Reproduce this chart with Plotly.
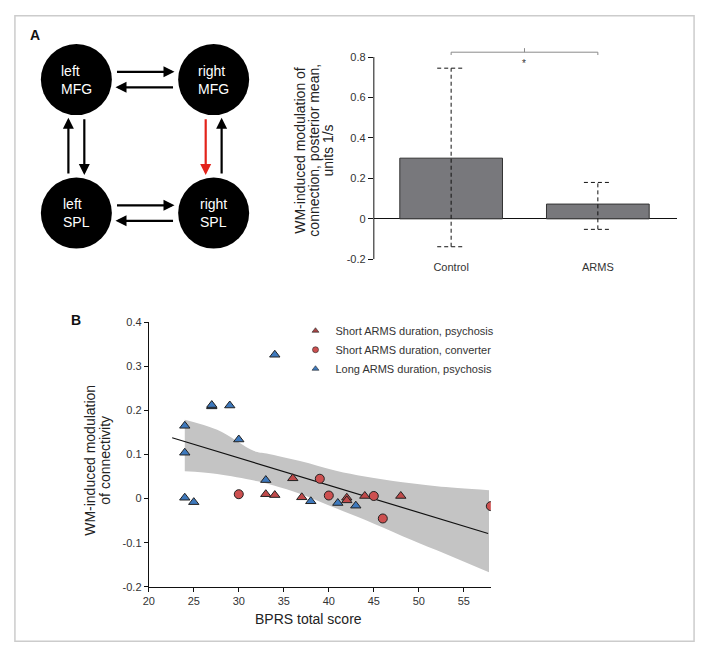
import plotly.graph_objects as go

W, H = 702, 656
FONT = "Liberation Sans, Arial, Helvetica, sans-serif"

# ---------------- Panel A: network diagram ----------------
node_labels = ["left<br>MFG", "right<br>MFG", "left<br>SPL", "right<br>SPL"]
node_col = [0, 1, 0, 1]
node_row = [0, 0, 1, 1]
edge_src = [0, 1, 2, 3, 2, 0, 1, 3]
edge_dst = [1, 0, 3, 2, 0, 2, 3, 1]
edge_lane = [-1, 1, -1, 1, -1, 1, -1, 1]
edge_modulated = [0, 0, 0, 0, 0, 0, 1, 0]

# ---------------- Panel A: bar chart ----------------
groups = ["Control", "ARMS"]
bar_mean = [0.300, 0.073]
ci_upper = [0.745, 0.180]
ci_lower = [-0.138, -0.052]
bar_yticks = [-0.2, 0, 0.2, 0.4, 0.6, 0.8]
bar_yticklabels = ["-0.2", "0", "0.2", "0.4", "0.6", "0.8"]
sig_level = 0.824
sig_label = "*"

# ---------------- Panel B: scatter ----------------
short_psy_x = [33, 34, 36, 37, 42, 42, 44, 48]
short_psy_y = [0.010, 0.008, 0.046, 0.003, 0.002, -0.004, 0.006, 0.006]
conv_x = [30, 39, 40, 45, 46, 58]
conv_y = [0.010, 0.045, 0.007, 0.006, -0.045, -0.017]
long_x = [24, 24, 24, 25, 27, 27, 29, 30, 33, 34, 38, 41, 43]
long_y = [0.165, 0.104, 0.002, -0.008, 0.209, 0.212, 0.211, 0.134, 0.042, 0.326, -0.006, -0.010, -0.016]
fit_x = [22.6, 57.7]
fit_y = [0.138, -0.079]
band_x = [24, 27.6, 31.7, 33.1, 36.8, 40.8, 44, 48.2, 52, 57.8]
band_upper = [0.179, 0.156, 0.108, 0.102, 0.085, 0.063, 0.050, 0.037, 0.028, 0.019]
band_lower = [0.062, 0.056, 0.041, 0.034, 0.011, -0.022, -0.048, -0.085, -0.117, -0.167]
sc_xticks = [20, 25, 30, 35, 40, 45, 50, 55]
sc_xticklabels = ["20", "25", "30", "35", "40", "45", "50", "55"]
sc_yticks = [-0.2, -0.1, 0, 0.1, 0.2, 0.3, 0.4]
sc_yticklabels = ["-0.2", "-0.1", "0", "0.1", "0.2", "0.3", "0.4"]

BLUE = "#3e79bd"
RED_TRI = "#c04a4a"
RED_CIR = "#cd5050"
OUTLINE = "#222222"


def px(x):
    return x / W


def py(y):
    return 1 - y / H


fig = go.Figure()

# ---- network nodes ----
fig.add_trace(go.Scatter(
    x=node_col, y=node_row, mode="markers", xaxis="x3", yaxis="y3",
    marker=dict(size=71, color="black", line=dict(width=0)),
    hoverinfo="skip", showlegend=False))

annotations = []
for lab, c, r in zip(node_labels, node_col, node_row):
    annotations.append(dict(x=c, y=r, xref="x3", yref="y3", text=lab, showarrow=False,
                            align="left", xanchor="center", yanchor="middle",
                            font=dict(color="white", size=14, family=FONT)))

GAP = 0.285
LANE = 0.058
for s, t, lane, mod in zip(edge_src, edge_dst, edge_lane, edge_modulated):
    sx, sy = node_col[s], node_row[s]
    tx, ty = node_col[t], node_row[t]
    dx, dy = tx - sx, ty - sy
    if dy == 0:
        ox, oy = 0, lane * LANE
    else:
        ox, oy = lane * LANE, 0
    annotations.append(dict(
        x=sx + dx * (1 - GAP) + ox, y=sy + dy * (1 - GAP) + oy,
        ax=sx + dx * GAP + ox, ay=sy + dy * GAP + oy,
        xref="x3", yref="y3", axref="x3", ayref="y3", text="",
        showarrow=True, arrowhead=2, arrowsize=1.0, arrowwidth=2.2, standoff=0,
        arrowcolor="#e3231b" if mod else "black"))

# ---- bar chart ----
xcat = list(range(len(groups)))
fig.add_trace(go.Bar(
    x=xcat, y=bar_mean, width=0.70, xaxis="x2", yaxis="y2",
    marker=dict(color="#78787c", line=dict(color="#333333", width=1)),
    showlegend=False, hoverinfo="skip"))

CAP = 0.095
ex, ey = [], []
for i, (lo, hi) in enumerate(zip(ci_lower, ci_upper)):
    ex += [i, i, None, i - CAP, i + CAP, None, i - CAP, i + CAP, None]
    ey += [lo, hi, None, hi, hi, None, lo, lo, None]
fig.add_trace(go.Scatter(
    x=ex, y=ey, mode="lines", xaxis="x2", yaxis="y2",
    line=dict(color="#111111", width=1, dash="4px,3px"),
    showlegend=False, hoverinfo="skip"))

mid = (xcat[0] + xcat[1]) / 2
bx = [xcat[0], xcat[0], xcat[1], xcat[1], None, mid, mid]
by = [sig_level - 0.014, sig_level, sig_level, sig_level - 0.014, None, sig_level, sig_level + 0.02]
fig.add_trace(go.Scatter(
    x=bx, y=by, mode="lines", xaxis="x2", yaxis="y2",
    line=dict(color="#8a8a8a", width=1), showlegend=False, hoverinfo="skip"))
annotations.append(dict(x=mid, y=sig_level - 0.055, xref="x2", yref="y2",
                        text=sig_label, showarrow=False, font=dict(size=10, family=FONT, color="#333")))

# ---- scatter panel ----
fig.add_trace(go.Scatter(x=band_x, y=band_lower, mode="lines", line=dict(width=0, shape="spline"),
                         showlegend=False, hoverinfo="skip"))
fig.add_trace(go.Scatter(x=band_x, y=band_upper, mode="lines", line=dict(width=0, shape="spline"),
                         fill="tonexty", fillcolor="#c4c4c4", showlegend=False, hoverinfo="skip"))
fig.add_trace(go.Scatter(x=fit_x, y=fit_y, mode="lines", line=dict(color="#111111", width=1.2),
                         showlegend=False, hoverinfo="skip"))

fig.add_trace(go.Scatter(x=short_psy_x, y=short_psy_y, mode="markers",
                         marker=dict(symbol="triangle-up", size=9, color=RED_TRI,
                                     line=dict(color=OUTLINE, width=1)),
                         showlegend=False, hoverinfo="skip"))
fig.add_trace(go.Scatter(x=conv_x, y=conv_y, mode="markers",
                         marker=dict(symbol="circle", size=9, color=RED_CIR,
                                     line=dict(color=OUTLINE, width=1)),
                         showlegend=False, hoverinfo="skip"))
fig.add_trace(go.Scatter(x=long_x, y=long_y, mode="markers",
                         marker=dict(symbol="triangle-up", size=9, color=BLUE,
                                     line=dict(color=OUTLINE, width=1)),
                         showlegend=False, hoverinfo="skip"))

# legend entries
for name, sym, col in [("Short ARMS duration, psychosis", "triangle-up", "#a84444"),
                       ("Short ARMS duration, converter", "circle", RED_CIR),
                       ("Long ARMS duration, psychosis", "triangle-up", BLUE)]:
    fig.add_trace(go.Scatter(x=[None], y=[None], mode="markers", name=name,
                             marker=dict(symbol=sym, size=6, color=col,
                                         line=dict(color=OUTLINE, width=0.6))))

# ---- titles / labels ----
TITLE_FONT = dict(size=14, family=FONT, color="#222")
for txt, xx in [("WM-induced modulation of", 297), ("connection, posterior mean,", 311),
                ("units 1/s", 325)]:
    annotations.append(dict(x=px(xx), y=py(147), xref="paper", yref="paper", text=txt,
                            textangle=-90, showarrow=False, font=TITLE_FONT,
                            xanchor="center", yanchor="middle"))
for txt, xx in [("WM-induced modulation", 84), ("of connectivity", 99)]:
    annotations.append(dict(x=px(xx), y=py(463), xref="paper", yref="paper", text=txt,
                            textangle=-90, showarrow=False, font=TITLE_FONT,
                            xanchor="center", yanchor="middle"))
annotations.append(dict(x=px(305), y=py(624), xref="paper", yref="paper", text="BPRS total score",
                        showarrow=False, font=TITLE_FONT, xanchor="center", yanchor="middle"))
annotations.append(dict(x=px(29), y=py(30), xref="paper", yref="paper", text="<b>A</b>",
                        showarrow=False, font=dict(size=14, family=FONT, color="#111"),
                        xanchor="center", yanchor="middle"))
annotations.append(dict(x=px(71), y=py(320), xref="paper", yref="paper", text="<b>B</b>",
                        showarrow=False, font=dict(size=14, family=FONT, color="#111"),
                        xanchor="center", yanchor="middle"))

shapes = [
    dict(type="rect", xref="paper", yref="paper", x0=px(9), x1=px(694), y0=py(647), y1=py(10),
         line=dict(color="#cccccc", width=1.5)),
    dict(type="line", xref="x2 domain", yref="y2", x0=0, x1=0, y0=bar_yticks[0], y1=bar_yticks[-1],
         line=dict(color="#111111", width=1)),
]

TICKFONT = dict(size=11, family=FONT, color="#333")
axis_common = dict(showgrid=False, zeroline=False, ticks="outside", ticklen=4, tickwidth=1,
                   tickcolor="#111", tickfont=TICKFONT)

fig.update_layout(
    width=W, height=H, margin=dict(l=0, r=0, t=0, b=0),
    paper_bgcolor="white", plot_bgcolor="white",
    font=dict(family=FONT),
    showlegend=True,
    legend=dict(x=px(292), y=py(316), xanchor="left", yanchor="top", traceorder="normal",
                font=dict(size=11, family=FONT, color="#333"), bgcolor="rgba(0,0,0,0)",
                itemwidth=30, tracegroupgap=0),
    xaxis=dict(domain=[px(144), px(489)], range=[20, 58], tickvals=sc_xticks,
               ticktext=sc_xticklabels, showline=True, linecolor="#111", linewidth=1,
               anchor="y", **axis_common),
    yaxis=dict(domain=[py(591.7), py(322)], range=[-0.2, 0.4], tickvals=sc_yticks,
               ticktext=sc_yticklabels, showline=True, linecolor="#111", linewidth=1,
               anchor="x", **axis_common),
    xaxis2=dict(domain=[px(371), px(677)], range=[-0.527, 1.541], tickvals=xcat,
                ticktext=groups, showline=False, showgrid=False, zeroline=False, ticks="",
                tickfont=TICKFONT, anchor="y2"),
    yaxis2=dict(domain=[py(258), py(258 - 1.06 * 206)], range=[-0.2, 0.86], tickvals=bar_yticks,
                ticktext=bar_yticklabels, showline=False, showgrid=False, zeroline=True,
                zerolinecolor="#111", zerolinewidth=1, ticks="outside", ticklen=5,
                tickwidth=1, tickcolor="#111", tickfont=TICKFONT, anchor="x2"),
    xaxis3=dict(domain=[px(20), px(260)], range=[-0.368, 1.365], visible=False, anchor="y3"),
    yaxis3=dict(domain=[py(290), py(20)], range=[1.581, -0.404], visible=False, anchor="x3"),
    annotations=annotations,
    shapes=shapes,
)

fig.write_html("out.html", config={"displayModeBar": False},
               post_script="document.body.style.margin='0';")
